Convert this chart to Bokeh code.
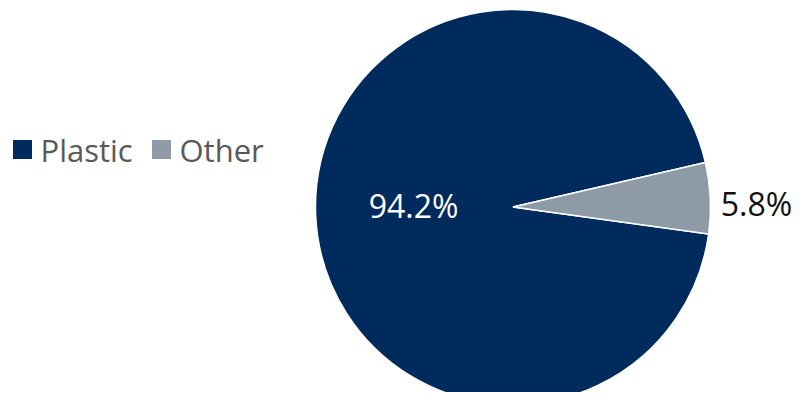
import math
from bokeh.plotting import figure
from bokeh.models import Range1d, ColumnDataSource
from bokeh.core.properties import value
from bokeh.embed import file_html
from bokeh.resources import INLINE

# ---- data ----
categories = ["Plastic", "Other"]
shares = [94.2, 5.8]
labels = ["94.2%", "5.8%"]
colors = ["#002B5C", "#8E9AA6"]

# ---- layout (image pixel coords; y measured from top of 400px window) ----
W, H = 801, 392
cx, cy_img, R = 512.5, 206.5, 197.5
rotation_deg = 13.0
FONT = "Open Sans"

def ty(y_img):
    return 400 - y_img

p = figure(width=W, height=H, output_backend="svg", toolbar_location=None,
           x_range=Range1d(0, W), y_range=Range1d(400 - H, 400),
           min_border=0)
p.axis.visible = False
p.grid.visible = False
p.outline_line_color = None
p.background_fill_color = "white"
p.border_fill_color = "white"

total = sum(shares)
starts, ends = [], []
a = math.radians(rotation_deg)
for s in shares:
    span = 2 * math.pi * s / total
    starts.append(a)
    ends.append(a + span)
    a += span

src = ColumnDataSource(dict(x=[cx] * len(shares), y=[ty(cy_img)] * len(shares),
                            start=starts, end=ends, color=colors))
p.wedge(x="x", y="y", radius=R, start_angle="start", end_angle="end",
        fill_color="color", line_color="white", line_width=1.5, source=src)

# inside label for Plastic
p.text(x=[413], y=[ty(205)], text=[labels[0]], text_color="white",
       text_font=value(FONT), text_font_size="32px",
       text_align="center", text_baseline="middle")
# outside label for Other
p.text(x=[756], y=[ty(203)], text=[labels[1]], text_color="#111111",
       text_font=value(FONT), text_font_size="32px",
       text_align="center", text_baseline="middle")

# legend (manual)
leg_x = [22, 161]
leg_text_x = [40, 179]
leg_y = ty(149)
p.scatter(x=leg_x, y=[leg_y] * 2, marker="square", size=19,
          fill_color=colors, line_color=None)
p.text(x=leg_text_x, y=[leg_y] * 2, text=categories, text_color="#595959",
       text_font=value(FONT), text_font_size="31px",
       text_align="left", text_baseline="middle")

open("out.html", "w").write(file_html(p, INLINE))
